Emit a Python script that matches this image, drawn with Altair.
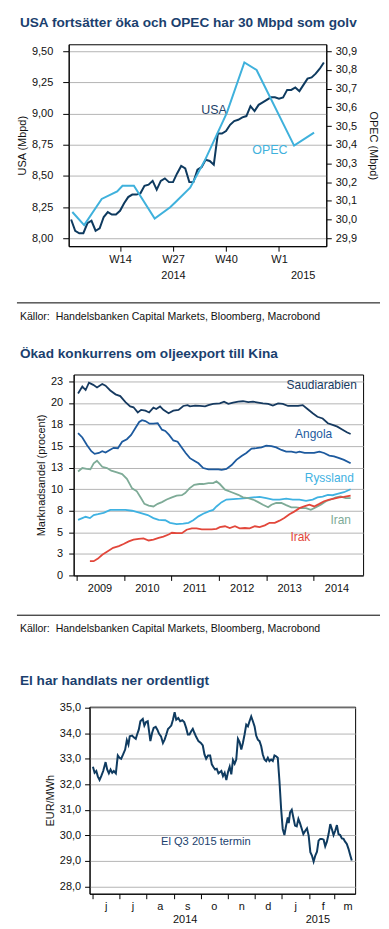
import json
import altair as alt
import pandas as pd

FONT = "Liberation Sans"
TITLE_COLOR = "#1b3f6e"
AX_COLOR = "#111111"
GRID = "#b4b4b4"
SOURCE = "Källor:\u00a0 Handelsbanken Capital Markets, Bloomberg, Macrobond"

# ---------------- Chart 1: USA vs OPEC (weeks, W1 2014 = 1) ----------------
usa_week = list(range(2, 65))
usa_mbpd = [8.15, 8.06, 8.04, 8.04, 8.12, 8.14, 8.06, 8.08, 8.17, 8.21, 8.19, 8.19,
            8.22, 8.28, 8.33, 8.35, 8.35, 8.36, 8.42, 8.43, 8.46, 8.39, 8.46, 8.48,
            8.45, 8.45, 8.52, 8.58, 8.56, 8.45, 8.45, 8.55, 8.57,
            8.63, 8.62, 8.59, 8.84, 8.84, 8.86, 8.91, 8.94, 8.95, 8.97, 8.98, 9.06,
            9.02, 9.07, 9.09, 9.11, 9.13, 9.13, 9.12, 9.13, 9.19, 9.19, 9.21, 9.18,
            9.23, 9.28, 9.29, 9.32, 9.36, 9.41]
opec_week = [2.3, 5.2, 9.5, 13.3, 14.6, 17.4, 22.5, 26.3, 27.7, 31.2, 34.9, 40.2,
             44.5, 47.5, 56.7, 61.6]
opec_mbpd = [30.04, 29.97, 30.11, 30.15, 30.18, 30.18, 30.005, 30.065, 30.095, 30.17,
             30.32, 30.57, 30.84, 30.80, 30.395, 30.465]
week_ticks = [14, 27, 40, 53]
week_labels = ["W14", "W27", "W40", "W1"]
year1_pos = [27, 58.8]
year1_labels = ["2014", "2015"]
usa_ticks = [8.0, 8.25, 8.5, 8.75, 9.0, 9.25, 9.5]
opec_ticks = [29.9, 30.0, 30.1, 30.2, 30.3, 30.4, 30.5, 30.6, 30.7, 30.8, 30.9]
lab1_usa = {"t": ["USA"], "w": [37.05], "v": [9.03]}
lab1_opec = {"t": ["OPEC"], "w": [50.75], "v": [30.372]}

# ---------------- Chart 2: market shares in China (fractional year) ----------------
saudi_x = [2009.03, 2009.12, 2009.19, 2009.26, 2009.35, 2009.43, 2009.54, 2009.61, 2009.71, 2009.82, 2009.92,
           2010.03, 2010.13, 2010.20, 2010.29, 2010.36, 2010.45, 2010.53, 2010.62, 2010.68, 2010.76, 2010.83, 2010.94,
           2011.04, 2011.15, 2011.25, 2011.34, 2011.39, 2011.50, 2011.60, 2011.71, 2011.78, 2011.88,
           2012.02, 2012.11, 2012.20, 2012.30, 2012.41, 2012.51, 2012.62, 2012.72, 2012.83, 2012.93,
           2013.04, 2013.14, 2013.25, 2013.35, 2013.46, 2013.56, 2013.67, 2013.77, 2013.87, 2013.98,
           2014.08, 2014.19, 2014.30, 2014.40, 2014.50, 2014.61, 2014.70, 2014.78]
saudi_y = [21.1, 21.9, 21.5, 22.35, 22.1, 21.8, 22.2, 22.0, 21.45, 21.0, 20.8,
           20.1, 19.6, 19.5, 18.9, 19.2, 19.1, 18.9, 19.45, 19.3, 19.6, 19.2, 18.8,
           19.1, 19.2, 19.65, 19.75, 19.6, 19.7, 19.65, 19.6, 19.75, 19.9,
           19.95, 20.15, 19.9, 20.05, 20.15, 20.2, 20.1, 20.15, 20.05, 19.95,
           19.9, 19.7, 19.95, 19.9, 19.65, 19.65, 19.65, 19.75, 19.3, 18.8,
           18.4, 18.2, 17.65, 17.45, 17.25, 16.9, 16.6, 16.4]
angola_x = [2009.03, 2009.12, 2009.22, 2009.31, 2009.38, 2009.47, 2009.54, 2009.61, 2009.70, 2009.78, 2009.87, 2009.96,
            2010.06, 2010.15, 2010.24, 2010.32, 2010.38, 2010.45, 2010.54, 2010.62, 2010.71, 2010.80, 2010.87, 2010.95,
            2011.04, 2011.13, 2011.22, 2011.30, 2011.39, 2011.48, 2011.57, 2011.67, 2011.78, 2011.88, 2011.99,
            2012.06, 2012.16, 2012.27, 2012.37, 2012.48, 2012.58, 2012.69, 2012.79, 2012.90,
            2013.00, 2013.11, 2013.21, 2013.32, 2013.42, 2013.53, 2013.63, 2013.70, 2013.81, 2013.91,
            2014.01, 2014.12, 2014.22, 2014.33, 2014.43, 2014.54, 2014.64, 2014.78]
angola_y = [16.5, 16.0, 15.1, 14.4, 14.1, 14.2, 14.4, 14.25, 14.55, 14.8, 14.75, 15.5,
            15.8, 16.3, 17.1, 17.8, 18.0, 17.9, 17.6, 17.6, 17.65, 16.9, 16.75, 16.3,
            15.65, 15.5, 14.8, 14.2, 13.6, 13.3, 13.0, 12.45, 12.3, 12.3, 12.3,
            12.25, 12.35, 12.8, 13.4, 13.85, 14.2, 14.7, 14.75, 14.85,
            15.05, 15.0, 14.85, 14.55, 14.35, 14.35, 14.25, 14.35, 14.2, 14.2,
            14.2, 14.35, 14.2, 13.9, 13.8, 13.6, 13.4, 13.0]
russia_x = [2009.03, 2009.12, 2009.19, 2009.28, 2009.36, 2009.45, 2009.57, 2009.71, 2009.85,
            2010.03, 2010.17, 2010.34, 2010.50, 2010.62, 2010.73, 2010.87, 2010.97,
            2011.11, 2011.25, 2011.36, 2011.46, 2011.57, 2011.67, 2011.80, 2011.88, 2011.95,
            2012.06, 2012.16, 2012.30, 2012.44, 2012.58, 2012.72, 2012.86,
            2013.00, 2013.14, 2013.28, 2013.42, 2013.56, 2013.70, 2013.84, 2013.98,
            2014.08, 2014.19, 2014.30, 2014.40, 2014.50, 2014.64, 2014.78]
russia_y = [6.45, 6.65, 6.8, 6.65, 7.0, 7.1, 7.25, 7.6, 7.6,
            7.6, 7.5, 7.25, 7.0, 6.65, 6.45, 6.4, 6.1,
            5.95, 6.0, 6.1, 6.4, 6.85, 7.15, 7.45, 7.6, 8.0,
            8.5, 8.8, 8.85, 8.9, 8.97, 9.05, 9.1,
            8.97, 8.8, 8.8, 8.9, 8.8, 8.8, 8.65, 8.8,
            9.05, 9.15, 9.35, 9.3, 9.45, 9.65, 10.0]
iran_x = [2009.03, 2009.12, 2009.21, 2009.29, 2009.36, 2009.43, 2009.54, 2009.64, 2009.73, 2009.85, 2009.96,
          2010.06, 2010.17, 2010.27, 2010.36, 2010.43, 2010.52, 2010.62, 2010.71, 2010.80, 2010.90,
          2011.01, 2011.11, 2011.22, 2011.29, 2011.38, 2011.48, 2011.59, 2011.67, 2011.78, 2011.88, 2011.95,
          2012.02, 2012.13, 2012.27, 2012.41, 2012.51, 2012.62, 2012.72, 2012.83, 2012.93,
          2013.04, 2013.11, 2013.21, 2013.32, 2013.42, 2013.53, 2013.63, 2013.74, 2013.84, 2013.94,
          2014.05, 2014.15, 2014.26, 2014.36, 2014.47, 2014.57, 2014.68, 2014.78]
iran_y = [12.05, 12.45, 12.35, 12.3, 13.0, 13.3, 12.6, 12.45, 12.15, 11.95, 11.75,
          11.2, 10.1, 9.75, 8.95, 8.3, 8.1, 8.0, 8.3, 8.5, 8.8,
          9.05, 9.25, 9.3, 9.55, 10.1, 10.5, 10.6, 10.6, 10.7, 10.7, 10.9,
          10.6, 9.95, 9.65, 9.35, 9.05, 8.97, 8.8, 8.5, 8.2,
          7.9, 8.2, 8.4, 8.4, 8.15, 7.9, 7.9, 7.8, 7.8, 7.6,
          7.9, 8.2, 8.6, 8.8, 9.05, 9.15, 8.97, 8.97]
iraq_x = [2009.28, 2009.36, 2009.45, 2009.54, 2009.64, 2009.77, 2009.89, 2009.99,
          2010.10, 2010.20, 2010.31, 2010.41, 2010.52, 2010.62, 2010.73, 2010.83, 2010.94,
          2011.01, 2011.11, 2011.22, 2011.32, 2011.43, 2011.53, 2011.64, 2011.74, 2011.85, 2011.95,
          2012.02, 2012.13, 2012.23, 2012.34, 2012.44, 2012.55, 2012.65, 2012.76, 2012.86, 2012.97,
          2013.07, 2013.18, 2013.28, 2013.38, 2013.49, 2013.59, 2013.70, 2013.80, 2013.91,
          2014.01, 2014.12, 2014.22, 2014.33, 2014.43, 2014.54, 2014.64, 2014.78]
iraq_y = [1.65, 1.65, 1.95, 2.4, 2.75, 3.2, 3.4, 3.65,
          3.95, 4.15, 4.25, 4.3, 4.05, 4.15, 4.35, 4.5, 4.75,
          4.95, 4.9, 4.9, 5.3, 5.45, 5.45, 5.35, 5.35, 5.35, 5.4,
          5.6, 5.7, 5.5, 5.7, 5.45, 5.5, 5.45, 5.7, 5.6, 5.8,
          6.1, 6.1, 6.35, 6.65, 7.1, 7.4, 7.8, 8.0, 8.2,
          8.0, 8.3, 8.6, 8.8, 8.9, 9.05, 9.1, 9.25]
series2 = ["Saudiarabien", "Angola", "Ryssland", "Iran", "Irak"]
colors2 = ["#163a60", "#1d5a9e", "#3fb2e2", "#7eab97", "#e2473b"]
lab2_x = [2014.17, 2014.0, 2014.33, 2014.57, 2013.72]
lab2_y = [22.04, 16.34, 11.25, 6.39, 4.43]
year_ticks2 = [2009, 2010, 2011, 2012, 2013, 2014]
share_ticks = [0, 2.5, 5, 7.5, 10, 12.5, 15, 17.5, 20, 22.5]

# ---------------- Chart 3: El Q3 2015 (days since 2014-06-01) ----------------
el_day = [0.4, 2.3, 4.2, 6.0, 7.9, 9.8, 12.0, 14.7, 16.5, 18.4, 20.3, 22.2, 24.0, 26.3, 28.5, 30.4,
          32.3, 34.5, 36.8, 38.7, 40.5, 42.0, 44.7, 46.5, 48.8, 50.3, 52.2, 54.0, 56.7, 58.5, 60.4,
          62.3, 63.8, 65.3, 67.2, 69.0, 71.3, 73.2, 75.0, 77.3, 79.5, 81.4, 83.3, 85.2, 87.0, 88.9,
          90.8, 92.7, 94.5, 96.8, 99.0, 101.3, 103.5, 105.7, 107.6, 109.5, 111.4, 113.2, 115.1,
          117.0, 119.6, 122.3, 124.5, 126.4, 128.3, 130.5, 132.8, 134.7, 136.5, 138.4, 140.3,
          142.2, 145.5, 147.3, 149.2, 151.1, 153.0, 154.9, 156.7, 158.6, 160.5, 162.3, 164.2,
          166.1, 168.0, 169.8, 171.7, 173.6, 175.5, 177.3, 179.2, 181.1, 183.0, 184.8, 186.7,
          188.6, 190.5, 192.3, 194.2, 196.1, 198.0, 199.8, 201.7, 203.6, 205.5, 207.3, 209.2,
          211.1, 213.0, 214.8, 216.7, 218.6, 220.5, 221.6, 223.1, 225.0, 226.8, 228.7, 230.6,
          232.5, 234.3, 236.2, 238.1, 240.3, 242.2, 244.1, 246.0, 247.8, 249.7, 251.6, 253.5,
          255.3, 257.2, 259.1, 261.0, 262.8, 264.7, 266.6, 268.5, 270.3, 272.2, 274.1, 276.0,
          277.8, 279.7, 281.6, 283.5, 285.3, 287.2, 289.1, 291.0, 292.8]
el_eur = [32.69, 32.45, 32.52, 32.30, 32.17, 32.32, 32.52, 32.87, 32.58, 32.43, 32.58, 32.45, 32.52,
          32.43, 33.13, 33.04, 33.00, 33.17, 33.36, 33.73, 33.56, 33.88, 33.91, 33.84, 33.78, 33.95,
          34.14, 34.47, 34.56, 34.30, 34.44, 34.47, 34.08, 33.69, 34.01, 34.21, 34.25, 34.14, 33.99,
          33.88, 33.62, 33.75, 33.95, 34.17, 34.23, 34.30, 34.53, 34.82, 34.53, 34.60, 34.47, 34.51,
          34.44, 34.21, 33.95, 33.95, 34.08, 34.17, 34.01, 33.86, 33.69, 33.62, 33.52, 33.17, 33.00,
          33.13, 33.13, 32.78, 32.68, 32.58, 32.61, 32.43, 32.52, 32.32, 32.45, 32.17, 32.48, 32.69,
          32.39, 32.95, 32.81, 32.97, 33.78, 33.65, 33.36, 33.62, 33.95, 34.34, 34.27, 34.47, 34.66,
          34.47, 34.27, 33.91, 33.75, 33.69, 33.49, 33.17, 32.97, 32.91, 33.04, 32.91, 32.97, 32.91,
          33.13, 33.10, 33.04, 32.13, 31.03, 30.25, 30.01, 30.38, 30.70, 30.48, 30.90, 31.00, 30.70,
          30.38, 30.35, 30.64, 30.48, 30.27, 30.05, 30.18, 30.27, 29.99, 29.34, 29.21, 28.97, 29.21,
          29.36, 29.79, 29.86, 29.86, 29.83, 29.57, 29.75, 30.05, 30.44, 30.25, 30.01, 30.18, 30.40,
          30.05, 30.01, 29.88, 29.86, 29.75, 29.66, 29.47, 29.23, 29.01]
month_ticks = [0, 30, 61, 92, 122, 153, 183, 214, 245, 273]
month_labels = ["j", "j", "a", "s", "o", "n", "d", "j", "f", "m"]
year3_pos = [104, 254]
year3_labels = ["2014", "2015"]
eur_ticks = [28, 29, 30, 31, 32, 33, 34, 35]
lab3 = {"t": ["El Q3 2015 termin"], "d": [127.9], "v": [29.75]}

TITLES = ["USA fortsätter öka och OPEC har 30 Mbpd som golv",
          "Ökad konkurrens om oljeexport till Kina",
          "El har handlats ner ordentligt"]

# page x range that the content may use (body margin 8 on both sides of the 389 px page)
PAGE_LEFT, PAGE_RIGHT = 16, 381


def lookup_expr(labels, values):
    return f"{json.dumps(labels)}[indexof({json.dumps(values)}, datum.value)]"


def comma_expr(fmt):
    return f"replace(format(datum.value, '{fmt}'), '.', ',')"


def spacer(w):
    return alt.Chart(pd.DataFrame({"z": [0]})).mark_point(size=0, opacity=0).encode(
        x=alt.value(w / 2), y=alt.value(0)
    ).properties(width=w, height=1, view=alt.ViewBackground(strokeWidth=0))


def decorations(plot_left, title, title_y, top_y, bottom_y, src_rule_y=None, src_text_y=None):
    """Chart title, source line and invisible layout guides, placed relative to the plot."""
    x0 = PAGE_LEFT - plot_left
    x1 = PAGE_RIGHT - plot_left
    one = pd.DataFrame({"z": [0]})
    out = [
        alt.Chart(pd.DataFrame({"t": [title]})).mark_text(
            align="left", baseline="middle", font=FONT, fontSize=13.7, fontWeight="bold", color=TITLE_COLOR
        ).encode(x=alt.value(x0 + 3), y=alt.value(title_y), text="t:N"),
        alt.Chart(one).mark_rule(strokeOpacity=0, strokeWidth=0).encode(
            x=alt.value(x0), x2=alt.value(x1), y=alt.value(top_y)),
    ]
    if bottom_y is not None:
        out.append(alt.Chart(one).mark_rule(strokeOpacity=0, strokeWidth=0).encode(
            x=alt.value(x0), x2=alt.value(x1), y=alt.value(bottom_y)))
    if src_rule_y is not None:
        out.append(alt.Chart(one).mark_rule(color="black", strokeWidth=1).encode(
            x=alt.value(x0), x2=alt.value(x1), y=alt.value(src_rule_y)))
        out.append(alt.Chart(pd.DataFrame({"t": [SOURCE]})).mark_text(
            align="left", baseline="middle", font=FONT, fontSize=10.6, color=AX_COLOR
        ).encode(x=alt.value(x0 + 3), y=alt.value(src_text_y), text="t:N"))
    return out


# ---------- chart 1 ----------
L1, W1, H1 = 68, 259, 203
xs1 = alt.Scale(domain=[1.4, 64.6], nice=False, zero=False)
ax_week = alt.Axis(values=week_ticks, labelExpr=lookup_expr(week_labels, week_ticks), tickSize=5,
                   labelPadding=2, grid=False, title=None, orient="bottom")
ax_year1 = alt.Axis(values=year1_pos, labelExpr=lookup_expr(year1_labels, year1_pos), ticks=False,
                    tickSize=0, domain=False, labelPadding=23, grid=False, title=None, orient="bottom")
ysl = alt.Scale(domain=[7.936, 9.556], nice=False, zero=False)
ysr = alt.Scale(domain=[29.857, 30.9375], nice=False, zero=False)
ax_l = alt.Axis(values=usa_ticks, labelExpr=comma_expr(".2f"), title="USA (Mbpd)", titleX=-46, titleY=H1 / 2,
                titleAngle=270, titleBaseline="middle", titleAlign="center", tickSize=6, labelPadding=10,
                grid=True, orient="left")
ax_r = alt.Axis(values=opec_ticks, labelExpr=comma_expr(".1f"), title="OPEC (Mbpd)", titleX=46, titleY=H1 / 2,
                titleAngle=90, titleBaseline="middle", titleAlign="center", tickSize=5, labelPadding=4,
                grid=False, orient="right")

usa_line = alt.Chart(pd.DataFrame({"w": usa_week, "v": usa_mbpd})).mark_line(
    color="#0e3a5f", strokeWidth=2).encode(
    x=alt.X("w:Q", scale=xs1, axis=ax_week), y=alt.Y("v:Q", scale=ysl, axis=ax_l))
usa_txt = alt.Chart(pd.DataFrame(lab1_usa)).mark_text(
    font=FONT, fontSize=12.5, color="#1e3f68", align="center", baseline="middle").encode(
    x=alt.X("w:Q", scale=xs1, axis=ax_week), y=alt.Y("v:Q", scale=ysl, axis=ax_l), text="t:N")
opec_line = alt.Chart(pd.DataFrame({"w": opec_week, "v": opec_mbpd})).mark_line(
    color="#3fb1dc", strokeWidth=2).encode(
    x=alt.X("w:Q", scale=xs1, axis=ax_year1), y=alt.Y("v:Q", scale=ysr, axis=ax_r))
opec_txt = alt.Chart(pd.DataFrame(lab1_opec)).mark_text(
    font=FONT, fontSize=12.5, color="#3fb1dc", align="center", baseline="middle").encode(
    x=alt.X("w:Q", scale=xs1, axis=ax_year1), y=alt.Y("v:Q", scale=ysr, axis=ax_r), text="t:N")
chart1 = alt.layer(
    alt.layer(usa_line, usa_txt), alt.layer(opec_line, opec_txt),
    *decorations(L1, TITLES[0], -21, -33, 291, 260, 274)
).resolve_scale(y="independent").resolve_axis(x="independent").properties(width=W1, height=H1)

# ---------- chart 2 ----------
L2, W2, H2 = 73, 291, 202
rows = []
for name, xs, ys in zip(series2, [saudi_x, angola_x, russia_x, iran_x, iraq_x],
                        [saudi_y, angola_y, russia_y, iran_y, iraq_y]):
    for a, b in zip(xs, ys):
        rows.append({"s": name, "x": a, "y": b})
df2 = pd.DataFrame(rows)
df2_lab = pd.DataFrame({"s": series2, "x": lab2_x, "y": lab2_y})
xs2 = alt.Scale(domain=[2008.937, 2015.043], nice=False, zero=False)
ys2 = alt.Scale(domain=[0, 23.3], nice=False, zero=False)
ax_x2 = alt.Axis(values=year_ticks2, format="d", labelOffset=23, tickSize=5, labelPadding=2, grid=False,
                 title=None, orient="bottom")
ax_y2 = alt.Axis(values=share_ticks, format=".0f", title="Marknadsandel (procent)", titleX=-32.5,
                 titleY=H2 / 2, titleAngle=270, titleBaseline="middle", titleAlign="center", tickSize=5,
                 labelPadding=6, grid=True, orient="left")
col2 = alt.Color("s:N", scale=alt.Scale(domain=series2, range=colors2), legend=None)
lines2 = alt.Chart(df2).mark_line(strokeWidth=1.8).encode(
    x=alt.X("x:Q", scale=xs2, axis=ax_x2), y=alt.Y("y:Q", scale=ys2, axis=ax_y2), color=col2)
labels2 = alt.Chart(df2_lab).mark_text(font=FONT, fontSize=12, align="center", baseline="middle").encode(
    x=alt.X("x:Q", scale=xs2, axis=ax_x2), y=alt.Y("y:Q", scale=ys2, axis=ax_y2), color=col2, text="s:N")
chart2 = alt.layer(
    lines2, labels2, *decorations(L2, TITLES[1], -21, -39, 279, 242, 256)
).properties(width=W2, height=H2)

# ---------- chart 3 ----------
L3, W3, H3 = 89, 267, 188
xs3 = alt.Scale(domain=[-3.4, 296.6], nice=False, zero=False)
ys3 = alt.Scale(domain=[27.712, 35.04], nice=False, zero=False)
ax_m = alt.Axis(values=month_ticks, labelExpr=lookup_expr(month_labels, month_ticks), labelOffset=13.3,
                tickSize=5, labelPadding=2, grid=False, title=None, orient="bottom")
ax_y3yr = alt.Axis(values=year3_pos, labelExpr=lookup_expr(year3_labels, year3_pos), ticks=False, tickSize=0,
                   domain=False, labelPadding=20, grid=False, title=None, orient="bottom")
ax_y3 = alt.Axis(values=eur_ticks, labelExpr=comma_expr(".1f"), title="EUR/MWh", titleX=-39.5, titleY=H3 / 2,
                 titleAngle=270, titleBaseline="middle", titleAlign="center", tickSize=5, labelPadding=4,
                 grid=True, orient="left")
el_line = alt.Chart(pd.DataFrame({"d": el_day, "v": el_eur})).mark_line(color="#0f3b60", strokeWidth=2).encode(
    x=alt.X("d:Q", scale=xs3, axis=ax_m), y=alt.Y("v:Q", scale=ys3, axis=ax_y3))
el_txt = alt.Chart(pd.DataFrame(lab3)).mark_text(
    font=FONT, fontSize=11.2, color="#1b3f6e", align="center", baseline="middle").encode(
    x=alt.X("d:Q", scale=xs3, axis=ax_y3yr), y=alt.Y("v:Q", scale=ys3, axis=ax_y3), text="t:N")
chart3 = alt.layer(
    el_line, el_txt, *decorations(L3, TITLES[2], -26, -53, None)
).resolve_axis(x="independent").properties(width=W3, height=H3)

row1 = alt.hconcat(spacer(L1 - PAGE_LEFT), chart1, spacing=0, bounds="flush")
row2 = alt.hconcat(spacer(L2 - PAGE_LEFT), chart2, spacing=0, bounds="flush")
row3 = alt.hconcat(spacer(L3 - PAGE_LEFT), chart3, spacing=0, bounds="flush")

chart = alt.vconcat(row1, row2, row3, spacing=0).properties(
    padding={"left": 8, "top": 0, "right": 0, "bottom": 0}
).configure(font=FONT).configure_view(stroke="black", strokeWidth=1).configure_axis(
    labelFont=FONT, titleFont=FONT, labelFontSize=11, titleFontSize=11, labelColor=AX_COLOR,
    titleColor=AX_COLOR, titleFontWeight="normal", domainColor="black", tickColor="black",
    gridColor=GRID, gridWidth=1, labelFlush=False, labelOverlap=False
)

chart.save("out.html", embed_options={"renderer": "svg", "actions": False})
